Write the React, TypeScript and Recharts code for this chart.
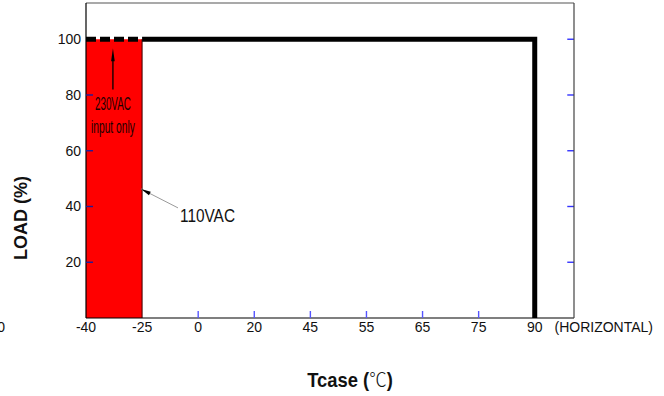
import React from 'react'
import {
  ComposedChart, Area, Line, XAxis, YAxis, ReferenceLine, Label
} from 'recharts'

// temperature ticks are evenly spaced, so the x axis runs on tick index
const tempLabels = ['-40', '-25', '0', '20', '45', '55', '65', '75', '90']
const loadTicks = [0, 20, 40, 60, 80, 100]
const ratedLoad = 100
// 230VAC-only band at the cold end
const bandTemps = ['-40', '-25']
// derating curve (110VAC and up)
const curveTemps = ['-25', '90', '90']
const curveLoad = [100, 100, 0]

const Y_MAX = 113
const X_MAX = 8.7
const RIGHT_TICK = 0.12

const ti = (t: string) => tempLabels.indexOf(t)

const rows: Record<string, number>[] = [
  ...bandTemps.map(t => ({ x: ti(t), band: ratedLoad, dash: ratedLoad })),
  { x: ti(bandTemps[1]), edge: ratedLoad },
  { x: ti(bandTemps[1]), edge: 0 },
  ...curveTemps.map((t, i) => ({ x: ti(t), curve: curveLoad[i] })),
]

const FONT = '"Liberation Sans", Arial, sans-serif'
const TICK_IN = 7

const arrowHead = (x1: number, y1: number, x2: number, y2: number, len: number, half: number) => {
  const dx = x2 - x1, dy = y2 - y1
  const d = Math.hypot(dx, dy) || 1
  const ux = dx / d, uy = dy / d
  const bx = x2 - ux * len, by = y2 - uy * len
  return `${x2},${y2} ${bx - uy * half},${by + ux * half} ${bx + uy * half},${by - ux * half}`
}

// ticks point into the plot; with tickSize 0 the tick props sit on the axis line
const LeftTick = (props: any) => {
  const { x, y, payload } = props
  const zero = payload.value === 0
  const hidden = payload.value === ratedLoad
  return (
    <g>
      {!zero && !hidden && <line x1={x} y1={y} x2={x + TICK_IN} y2={y} stroke="#1c1c9c" strokeWidth={1.4} />}
      <text x={zero ? x - 81 : x - 5} y={zero ? y + 14 : y + 5} textAnchor="end"
        fontFamily={FONT} fontSize={14} fill="#111">
        {payload.value}
      </text>
    </g>
  )
}

const BottomTick = (props: any) => {
  const { x, y, payload } = props
  // marks under the red band and the 90 drop are covered
  const covered = payload.value <= ti(bandTemps[1]) || payload.value >= ti(curveTemps[2])
  return (
    <g>
      {!covered && <line x1={x} y1={y} x2={x} y2={y - TICK_IN} stroke="#5555ff" strokeWidth={1.4} />}
      <text x={x} y={y + 14} textAnchor="middle" fontFamily={FONT} fontSize={14} fill="#111">
        {tempLabels[payload.value]}
      </text>
    </g>
  )
}

const Note230 = (props: any) => {
  const { x1, y1, x2, y2 } = props
  return (
    <g>
      <line x1={x1} y1={y1} x2={x2} y2={y2 + 8} stroke="#000" strokeWidth={1.3} />
      <polygon points={arrowHead(x1, y1, x2, y2, 13, 1.8)} fill="#000" />
      <text x={x1} y={y1 + 21} textAnchor="middle" fontFamily={FONT} fontSize={18}
        textLength={36} lengthAdjust="spacingAndGlyphs" fill="#1a0000">230VAC</text>
      <text x={x1} y={y1 + 44} textAnchor="middle" fontFamily={FONT} fontSize={18}
        textLength={44} lengthAdjust="spacingAndGlyphs" fill="#1a0000">input only</text>
    </g>
  )
}

const Note110 = (props: any) => {
  const { x1, y1, x2, y2 } = props
  return (
    <g>
      <line x1={x1} y1={y1} x2={x2} y2={y2} stroke="#9a9a9a" strokeWidth={1} />
      <polygon points={arrowHead(x1, y1, x2, y2, 10, 2)} fill="#000" />
      <text x={x1 + 2} y={y1 + 14} fontFamily={FONT} fontSize={18}
        textLength={55} lengthAdjust="spacingAndGlyphs" fill="#111">110VAC</text>
    </g>
  )
}

export default function App() {
  return (
    <div style={{ position: 'absolute', left: 0, top: 0, background: '#fff' }}>
      <ComposedChart width={664} height={396} data={rows}
        margin={{ top: 3, right: 89, left: 26, bottom: 48 }}>
        <ReferenceLine yAxisId="left" y={Y_MAX} stroke="#555" strokeWidth={1.2} />

        {/* inward marks on the right frame */}
        {loadTicks.slice(1).map(v => (
          <ReferenceLine key={v} yAxisId="left"
            segment={[{ x: X_MAX - RIGHT_TICK, y: v }, { x: X_MAX, y: v }]}
            stroke="#3333ff" strokeWidth={1.4} />
        ))}

        <Area yAxisId="left" dataKey="band" type="linear" fill="#ff0000" fillOpacity={1}
          stroke="none" isAnimationActive={false} />
        <Line yAxisId="left" dataKey="edge" type="linear" stroke="#3a0000" strokeWidth={1}
          dot={false} isAnimationActive={false} />
        <Line yAxisId="left" dataKey="dash" type="linear" stroke="#000" strokeWidth={5}
          strokeDasharray="10 4" dot={false} isAnimationActive={false} />
        <Line yAxisId="left" dataKey="curve" type="linear" stroke="#000" strokeWidth={5}
          strokeLinejoin="miter" dot={false} isAnimationActive={false} />

        <ReferenceLine yAxisId="left" segment={[{ x: 0.48, y: 82 }, { x: 0.48, y: 96.8 }]}
          shape={Note230} />
        <ReferenceLine yAxisId="left" segment={[{ x: 1.64, y: 39.5 }, { x: 0.98, y: 46.3 }]}
          shape={Note110} />

        <XAxis dataKey="x" type="number" domain={[0, X_MAX]} allowDataOverflow
          ticks={tempLabels.map((_, i) => i)} height={30} interval={0}
          axisLine={{ stroke: '#000', strokeWidth: 1.2 }}
          tickLine={false} tickSize={0} tickMargin={0}
          tick={BottomTick}>
          <Label content={(p: any) => {
            const vb = p.viewBox
            return (
              <g>
                <text x={vb.x + vb.width + 79} y={vb.y + 14} textAnchor="end"
                  fontFamily={FONT} fontSize={14} fill="#111">(HORIZONTAL)</text>
                <text transform={`translate(${vb.x + 264},${vb.y + 69}) scale(0.92,1)`}
                  textAnchor="middle" fontFamily={FONT} fontSize={20} fill="#111">
                  <tspan fontWeight="bold">Tcase (</tspan>
                  <tspan fontFamily='"Noto Sans CJK SC", sans-serif' fontWeight="300" fontSize={19}>℃</tspan>
                  <tspan fontWeight="bold">)</tspan>
                </text>
              </g>
            )
          }} />
        </XAxis>
        <YAxis yAxisId="left" domain={[0, Y_MAX]} ticks={loadTicks} width={60} interval={0}
          axisLine={{ stroke: '#000', strokeWidth: 1.2 }}
          tickLine={false} tickSize={0} tickMargin={0}
          tick={LeftTick}>
          <Label content={(p: any) => {
            const vb = p.viewBox
            return (
              <text transform={`translate(${vb.x + 1},${vb.y + 215}) rotate(-90)`}
                textAnchor="middle" fontFamily={FONT} fontSize={18} fontWeight="bold" fill="#111">
                LOAD (%)
              </text>
            )
          }} />
        </YAxis>
        <YAxis yAxisId="right" orientation="right" domain={[0, Y_MAX]} tick={false}
          width={1} tickLine={false} axisLine={{ stroke: '#444', strokeWidth: 1.2 }} />
      </ComposedChart>
    </div>
  )
}
